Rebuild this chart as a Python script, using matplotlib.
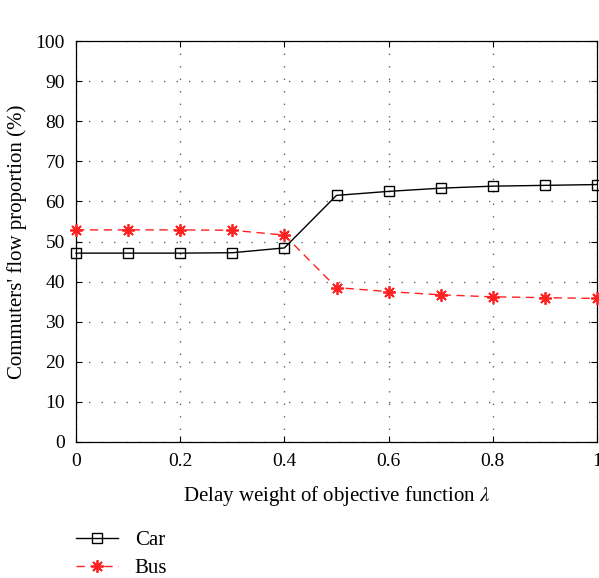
import numpy as np
import matplotlib
matplotlib.use("Agg")
import matplotlib.pyplot as plt

# delay weight lambda vs commuter share
lam = [0, 0.1, 0.2, 0.3, 0.4, 0.5, 0.6, 0.7, 0.8, 0.9, 1.0]
car = [47.1, 47.1, 47.1, 47.2, 48.4, 61.5, 62.5, 63.3, 63.8, 64.0, 64.2]
bus = [52.9, 52.9, 52.9, 52.8, 51.6, 38.5, 37.5, 36.7, 36.2, 36.0, 35.8]

xticks = [0, 0.2, 0.4, 0.6, 0.8, 1.0]
xticklabels = ["0", "0.2", "0.4", "0.6", "0.8", "1"]
yticks = list(range(0, 101, 10))

plt.rcParams['font.family'] = ['Liberation Serif', 'DejaVu Serif']
plt.rcParams['mathtext.fontset'] = 'stix'

fig = plt.figure(figsize=(5.99, 5.78), dpi=100)
ax = fig.add_axes([76/599, 1 - 442/578, (597-76)/599, (442-41)/578])

ax.plot(lam, car, color='black', lw=1.0, marker='s', ms=7, mfc='none',
        mec='black', mew=1.0, label='Car', clip_on=False, zorder=3)
ax.plot(lam, bus, color='#ff2020', lw=1.0, ls=(0, (6, 4)), marker=(8, 2, 0),
        ms=9, mfc='#ff2020', mec='#ff2020', mew=1.3, label='Bus',
        clip_on=False, zorder=3)

ax.set_xlim(0, 1)
ax.set_ylim(0, 100)
ax.set_xticks(xticks)
ax.set_xticklabels(xticklabels)
ax.set_yticks(yticks)
ax.tick_params(direction='in', top=True, right=True, labelsize=14, length=4,
               pad=8)
ax.grid(True, ls=(0, (1, 8)), color='#666666', lw=1.0)
for s in ax.spines.values():
    s.set_linewidth(0.9)

ax.set_xlabel(r'Delay weight of objective function $\lambda$', fontsize=15,
              labelpad=10)
ax.set_ylabel("Commuters' flow proportion (%)", fontsize=15, labelpad=6)

leg = fig.legend(loc='upper left', bbox_to_anchor=(68/599, 1 - 522/578),
                 frameon=False, fontsize=15, handlelength=2.0,
                 labelspacing=0.4, handletextpad=0.8, borderaxespad=0)

fig.savefig('out.png', dpi=100)
